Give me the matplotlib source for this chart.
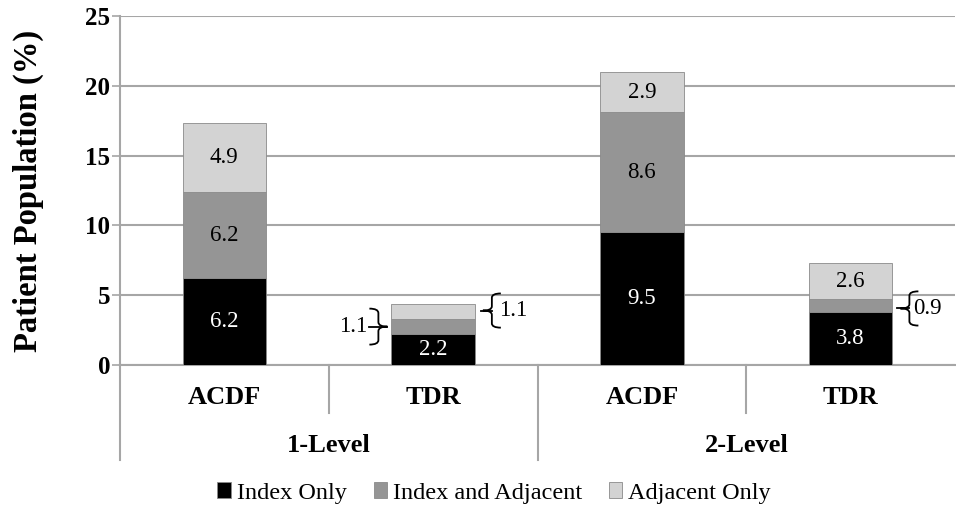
import matplotlib.pyplot as plt
from matplotlib.path import Path
from matplotlib.patches import PathPatch, Patch
import matplotlib.transforms as mtransforms

plt.rcParams['font.family'] = ['Liberation Serif', 'DejaVu Serif']

groups = ['1-Level', '2-Level']
procedures = ['ACDF', 'TDR', 'ACDF', 'TDR']
index_only = [6.2, 2.2, 9.5, 3.8]
index_adjacent = [6.2, 1.1, 8.6, 0.9]
adjacent_only = [4.9, 1.1, 2.9, 2.6]
series_names = ['Index Only', 'Index and Adjacent', 'Adjacent Only']
colors = ['#000000', '#959595', '#d3d3d3']

fig = plt.figure(figsize=(9.56, 5.08), dpi=100)
ax = fig.add_axes([0.1255, 0.2815, 0.8735, 0.687])

x = list(range(len(procedures)))
width = 0.4
grid_col = '#a6a6a6'

bottoms = [0.0] * len(x)
stacks = [index_only, index_adjacent, adjacent_only]
for vals, col, name in zip(stacks, colors, series_names):
    ax.bar(x, vals, width, bottom=bottoms, color=col, edgecolor='#8a8a8a',
           linewidth=0.6, label=name, zorder=3)
    for i, v in enumerate(vals):
        if v >= 2:
            ax.text(i, bottoms[i] + v / 2, f'{v:.1f}', ha='center', va='center',
                    fontsize=16.5, color='white' if col == '#000000' else 'black',
                    zorder=4)
    bottoms = [b + v for b, v in zip(bottoms, vals)]

ax.set_xlim(-0.5, 3.5)
ax.set_ylim(0, 25)
ax.set_yticks([0, 5, 10, 15, 20, 25])
ax.set_yticklabels(['0', '5', '10', '15', '20', '25'], fontsize=18, fontweight='bold')
ax.tick_params(axis='y', length=6, width=1.2, color=grid_col, pad=1)
ax.set_xticks([])
ax.yaxis.grid(True, color=grid_col, linewidth=1.5, zorder=0)
ax.set_axisbelow(True)
for s in ['top', 'right']:
    ax.spines[s].set_visible(False)
for s in ['left', 'bottom']:
    ax.spines[s].set_color(grid_col)
    ax.spines[s].set_linewidth(1.5)
ax.set_ylabel('Patient Population (%)', fontsize=23.5, fontweight='bold')
ax.yaxis.set_label_coords(-0.0905, 0.5)

# category axis with two label rows and separators
trans = mtransforms.blended_transform_factory(ax.transData, ax.transAxes)
for xs, y_end in [(-0.5, -0.272), (0.5, -0.137), (1.5, -0.272), (2.5, -0.137)]:
    ax.plot([xs, xs], [0, y_end], color=grid_col, lw=1.5, transform=trans,
            clip_on=False)
for i, p in enumerate(procedures):
    ax.text(i, -0.093, p, transform=trans, ha='center', va='center',
            fontsize=19, fontweight='bold')
for g, gx in zip(groups, [0.5, 2.5]):
    ax.text(gx, -0.23, g, transform=trans, ha='center', va='center',
            fontsize=19, fontweight='bold')


def brace(xv, yc, h, w, d):
    # curly brace with vertical stroke at xv, tip pointing towards -d
    k = h * 0.25
    verts = [(xv + d * w, yc + h), (xv, yc + h), (xv, yc + h - k),
             (xv, yc + k),
             (xv, yc), (xv - d * w, yc),
             (xv, yc), (xv, yc - k),
             (xv, yc - h + k),
             (xv, yc - h), (xv + d * w, yc - h)]
    codes = [Path.MOVETO, Path.CURVE3, Path.CURVE3,
             Path.LINETO,
             Path.CURVE3, Path.CURVE3,
             Path.CURVE3, Path.CURVE3,
             Path.LINETO,
             Path.CURVE3, Path.CURVE3]
    ax.add_patch(PathPatch(Path(verts, codes), fill=False, lw=1.3,
                           edgecolor='black', zorder=4, clip_on=False))


px = 1 / 209.0
py = 1 / 13.96
h = 18 * py
w = 9 * px

# TDR 1-Level, Index and Adjacent (left side)
yc = index_only[1] + index_adjacent[1] / 2
brace(1 - width / 2 - 13 * px, yc, h, w, -1)
ax.plot([1 - width / 2 - 4 * px, 1 - width / 2 - 22 * px], [yc, yc], color='black', lw=1.3, zorder=4)
ax.text(1 - width / 2 - 24 * px, yc, f'{index_adjacent[1]:.1f}', ha='right', va='center', fontsize=16.5)

# TDR 1-Level, Adjacent Only (right side)
yc = index_only[1] + index_adjacent[1] + adjacent_only[1] / 2 + 0.05
brace(1 + width / 2 + 17 * px, yc, h * 0.95, w, 1)
ax.plot([1 + width / 2 + 6 * px, 1 + width / 2 + 17 * px], [yc, yc], color='black', lw=1.3, zorder=4)
ax.text(1 + width / 2 + 24 * px, yc, f'{adjacent_only[1]:.1f}', ha='left', va='center', fontsize=16.5)

# TDR 2-Level, Index and Adjacent (right side)
yc = index_only[3] + index_adjacent[3] / 2 - 0.2
brace(3 + width / 2 + 17 * px, yc, h * 0.95, w, 1)
ax.plot([3 + width / 2 + 5 * px, 3 + width / 2 + 17 * px], [yc, yc], color='black', lw=1.3, zorder=4)
ax.text(3 + width / 2 + 21 * px, yc, f'{index_adjacent[3]:.1f}', ha='left', va='center', fontsize=16.5)

handles = [Patch(facecolor=c, edgecolor='#8a8a8a', linewidth=0.6) for c in colors]
fig.legend(handles, series_names, loc='center', bbox_to_anchor=(0.517, 0.03),
           ncol=3, frameon=False, fontsize=17.5, handlelength=0.55, handleheight=0.65,
           handletextpad=0.25, columnspacing=1.1)

fig.savefig('out.png', dpi=100)
